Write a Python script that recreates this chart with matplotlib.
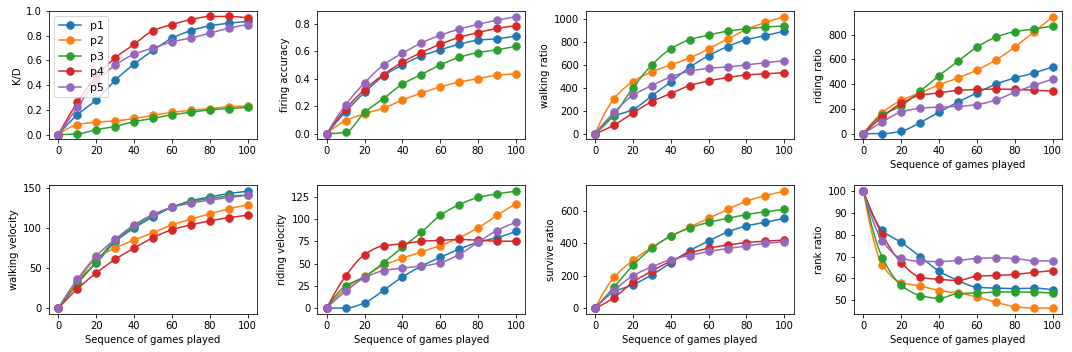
import matplotlib
matplotlib.use("Agg")
import matplotlib.pyplot as plt
from matplotlib.lines import Line2D
import numpy as np

games = [0, 10, 20, 30, 40, 50, 60, 70, 80, 90, 100]
players = ["p1", "p2", "p3", "p4", "p5"]
colors = ["#1f77b4", "#ff7f0e", "#2ca02c", "#d62728", "#9467bd"]

kd = [
    [0, 0.16, 0.28, 0.44, 0.57, 0.68, 0.78, 0.84, 0.88, 0.90, 0.915],
    [0, 0.08, 0.10, 0.11, 0.13, 0.155, 0.18, 0.195, 0.21, 0.225, 0.23],
    [0, 0.005, 0.04, 0.065, 0.105, 0.13, 0.16, 0.18, 0.20, 0.21, 0.22],
    [0, 0.26, 0.47, 0.62, 0.73, 0.84, 0.89, 0.93, 0.955, 0.955, 0.945],
    [0, 0.22, 0.43, 0.56, 0.65, 0.70, 0.75, 0.78, 0.82, 0.86, 0.89],
]
firing_accuracy = [
    [0, 0.16, 0.30, 0.42, 0.50, 0.565, 0.61, 0.65, 0.68, 0.69, 0.71],
    [0, 0.095, 0.145, 0.185, 0.245, 0.295, 0.34, 0.375, 0.40, 0.425, 0.435],
    [0, 0.01, 0.155, 0.255, 0.36, 0.43, 0.50, 0.555, 0.59, 0.61, 0.635],
    [0, 0.18, 0.32, 0.43, 0.52, 0.59, 0.65, 0.70, 0.735, 0.765, 0.785],
    [0, 0.21, 0.37, 0.50, 0.585, 0.66, 0.715, 0.76, 0.795, 0.825, 0.85],
]
walking_ratio = [
    [0, 150, 210, 330, 450, 580, 680, 760, 820, 855, 895],
    [0, 305, 455, 540, 600, 660, 740, 825, 910, 970, 1020],
    [0, 165, 400, 600, 740, 820, 860, 895, 915, 930, 940],
    [0, 75, 180, 280, 350, 420, 460, 490, 512, 522, 532],
    [0, 185, 335, 420, 495, 545, 570, 582, 600, 620, 635],
]
riding_ratio = [
    [0, 0, 20, 90, 175, 255, 330, 400, 450, 490, 540],
    [0, 170, 270, 330, 395, 450, 515, 595, 700, 820, 945],
    [0, 150, 225, 345, 470, 585, 700, 780, 825, 845, 870],
    [0, 135, 245, 310, 330, 350, 357, 360, 358, 350, 345],
    [0, 95, 175, 205, 215, 220, 235, 272, 335, 390, 440],
]
walking_velocity = [
    [0, 33, 56, 83, 100, 114, 126, 134, 139, 143, 146],
    [0, 33, 62, 75, 85, 94, 104, 111, 118, 124, 129],
    [0, 30, 58, 85, 102, 116, 126, 133, 137, 140, 141],
    [0, 24, 44, 61, 75, 88, 98, 104, 109, 113, 116],
    [0, 36, 65, 86, 104, 117, 126, 131, 135, 138, 141],
]
riding_velocity = [
    [0, 0, 6, 20, 35, 47, 57, 66, 74, 79, 86],
    [0, 22, 36, 48, 56, 63, 70, 79, 90, 104, 117],
    [0, 25, 35, 51, 68, 85, 104, 116, 124, 128, 131],
    [0, 36, 60, 70, 72, 75, 76, 77, 76, 75, 75],
    [0, 19, 34, 42, 45, 47, 51, 60, 74, 87, 96],
]
survive_ratio = [
    [0, 100, 145, 205, 280, 355, 415, 470, 508, 530, 555],
    [0, 190, 295, 375, 445, 500, 555, 610, 660, 695, 722],
    [0, 130, 265, 370, 445, 495, 530, 555, 578, 595, 610],
    [0, 65, 160, 230, 290, 340, 370, 390, 405, 414, 420],
    [0, 110, 200, 255, 300, 325, 350, 368, 384, 400, 410],
]
rank_ratio = [
    [100, 82, 76.5, 70, 63.3, 59, 55.9, 55.5, 55.3, 55.5, 54.7],
    [100, 66, 58, 56.5, 54.4, 53.2, 51.5, 49, 47, 46.3, 46.3],
    [100, 69.5, 56.8, 52.1, 50.8, 53, 53.2, 53.7, 53.7, 53.6, 53.2],
    [100, 80, 67.2, 60.5, 59.5, 59, 61, 61.3, 61.8, 62.7, 63.5],
    [100, 77.3, 69.2, 67.8, 67.7, 68.2, 69.1, 69.4, 69.1, 68, 68],
]

panels = [
    ("K/D", kd), ("firing accuracy", firing_accuracy),
    ("walking ratio", walking_ratio), ("riding ratio", riding_ratio),
    ("walking velocity", walking_velocity), ("riding velocity", riding_velocity),
    ("survive ratio", survive_ratio), ("rank ratio", rank_ratio),
]


def pchip(x, y, xs):
    # monotone cubic curve through the points, just for the drawn line
    x = np.asarray(x, float)
    y = np.asarray(y, float)
    h = np.diff(x)
    d = np.diff(y) / h
    m = np.zeros_like(y)
    for k in range(1, len(x) - 1):
        if d[k - 1] * d[k] > 0:
            w1 = 2 * h[k] + h[k - 1]
            w2 = h[k] + 2 * h[k - 1]
            m[k] = (w1 + w2) / (w1 / d[k - 1] + w2 / d[k])

    def end(h0, h1, d0, d1):
        s = ((2 * h0 + h1) * d0 - h0 * d1) / (h0 + h1)
        if np.sign(s) != np.sign(d0):
            s = 0.0
        elif np.sign(d0) != np.sign(d1) and abs(s) > abs(3 * d0):
            s = 3 * d0
        return s

    m[0] = end(h[0], h[1], d[0], d[1])
    m[-1] = end(h[-1], h[-2], d[-1], d[-2])
    idx = np.clip(np.searchsorted(x, xs) - 1, 0, len(x) - 2)
    t = (xs - x[idx]) / h[idx]
    h00 = 2 * t**3 - 3 * t**2 + 1
    h10 = t**3 - 2 * t**2 + t
    h01 = -2 * t**3 + 3 * t**2
    h11 = t**3 - t**2
    return (h00 * y[idx] + h10 * h[idx] * m[idx]
            + h01 * y[idx + 1] + h11 * h[idx] * m[idx + 1])


fig, axes = plt.subplots(2, 4, figsize=(1072 / 72, 352 / 72), dpi=72)
plt.subplots_adjust(left=0.0457, right=0.9907, top=0.969, bottom=0.108,
                    wspace=0.29, hspace=0.357)

xs = np.linspace(0, 100, 401)
for i, (name, series) in enumerate(panels):
    ax = axes.flat[i]
    for vals, c in zip(series, colors):
        ax.plot(xs, pchip(games, vals, xs), color=c, lw=1.5)
        ax.plot(games, vals, "o", color=c, ms=7.5)
    ax.set_ylabel(name)
    ax.set_xticks([0, 20, 40, 60, 80, 100])
    if i >= 3:
        ax.set_xlabel("Sequence of games played")

axes[0, 0].set_ylim(-0.04, 1.0)
handles = [Line2D([], [], color=c, marker="o", ms=7.5, lw=1.5) for c in colors]
axes[0, 0].legend(handles, players, loc="upper left", fontsize=11)

fig.savefig("out.png", dpi=72)
